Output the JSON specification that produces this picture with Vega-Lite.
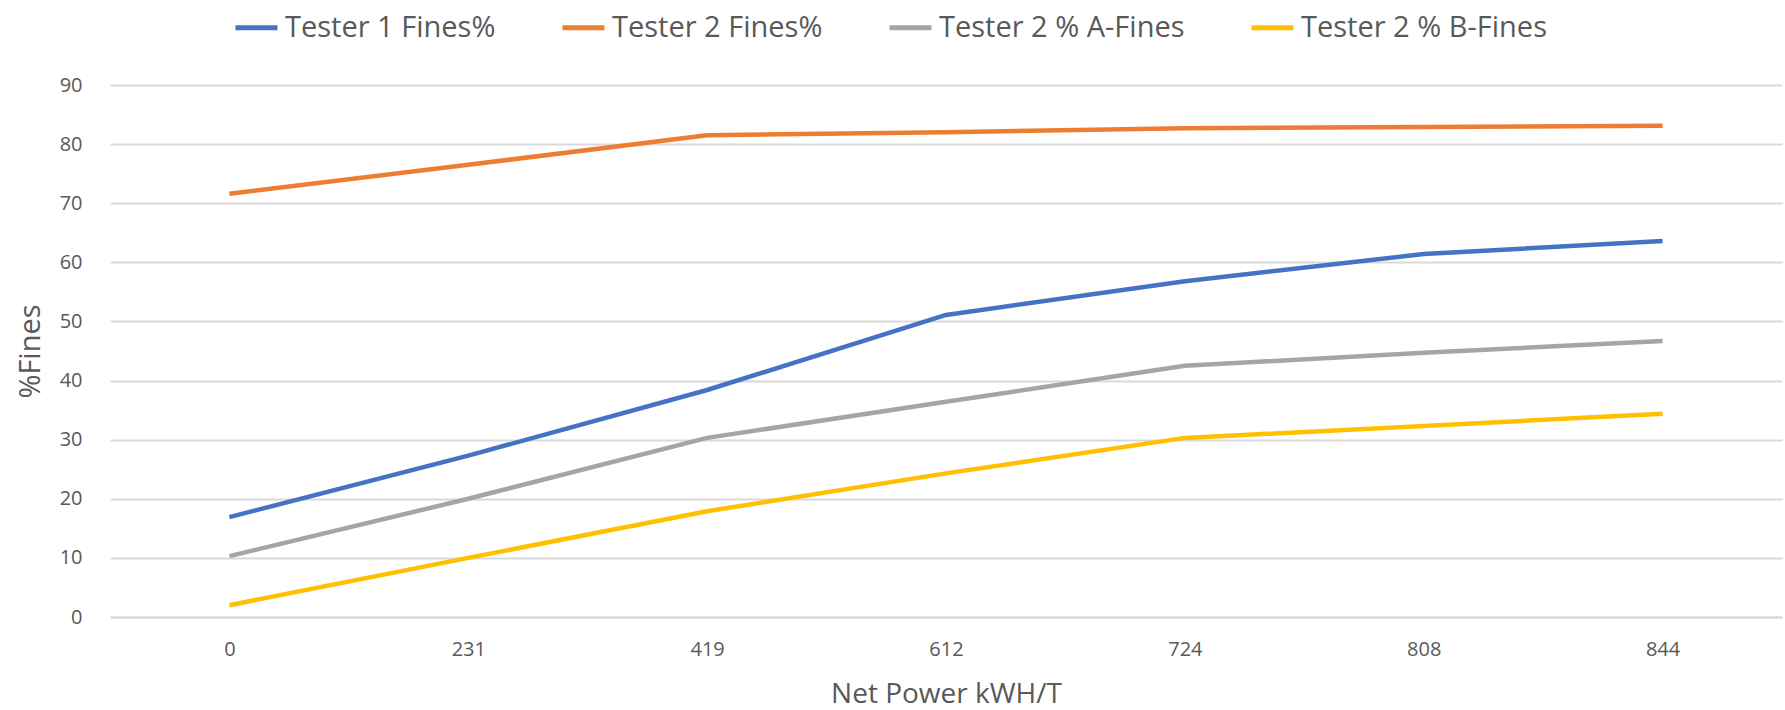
{
  "$schema": "https://vega.github.io/schema/vega-lite/v6.json",
  "autosize": "none",
  "width": 1672,
  "height": 532,
  "padding": {"left": 110, "top": 85, "right": 3, "bottom": 93},
  "background": "white",
  "config": {
    "font": "Open Sans",
    "view": {"stroke": null},
    "axis": {"labelColor": "#595959", "titleColor": "#595959", "labelFont": "Open Sans", "titleFont": "Open Sans", "titleFontWeight": "normal"},
    "legend": {"labelFont": "Open Sans", "labelColor": "#595959"}
  },
  "data": {
    "values": [
      {"power": "0", "series": "Tester 1 Fines%", "value": 16.9},
      {"power": "231", "series": "Tester 1 Fines%", "value": 27.3},
      {"power": "419", "series": "Tester 1 Fines%", "value": 38.4},
      {"power": "612", "series": "Tester 1 Fines%", "value": 51.1},
      {"power": "724", "series": "Tester 1 Fines%", "value": 56.8},
      {"power": "808", "series": "Tester 1 Fines%", "value": 61.4},
      {"power": "844", "series": "Tester 1 Fines%", "value": 63.6},
      {"power": "0", "series": "Tester 2 Fines%", "value": 71.6},
      {"power": "231", "series": "Tester 2 Fines%", "value": 76.5},
      {"power": "419", "series": "Tester 2 Fines%", "value": 81.5},
      {"power": "612", "series": "Tester 2 Fines%", "value": 82.0},
      {"power": "724", "series": "Tester 2 Fines%", "value": 82.7},
      {"power": "808", "series": "Tester 2 Fines%", "value": 82.9},
      {"power": "844", "series": "Tester 2 Fines%", "value": 83.1},
      {"power": "0", "series": "Tester 2 % A-Fines", "value": 10.3},
      {"power": "231", "series": "Tester 2 % A-Fines", "value": 20.0},
      {"power": "419", "series": "Tester 2 % A-Fines", "value": 30.3},
      {"power": "612", "series": "Tester 2 % A-Fines", "value": 36.4},
      {"power": "724", "series": "Tester 2 % A-Fines", "value": 42.5},
      {"power": "808", "series": "Tester 2 % A-Fines", "value": 44.7},
      {"power": "844", "series": "Tester 2 % A-Fines", "value": 46.7},
      {"power": "0", "series": "Tester 2 % B-Fines", "value": 2.0},
      {"power": "231", "series": "Tester 2 % B-Fines", "value": 10.0},
      {"power": "419", "series": "Tester 2 % B-Fines", "value": 17.9},
      {"power": "612", "series": "Tester 2 % B-Fines", "value": 24.3},
      {"power": "724", "series": "Tester 2 % B-Fines", "value": 30.3},
      {"power": "808", "series": "Tester 2 % B-Fines", "value": 32.3},
      {"power": "844", "series": "Tester 2 % B-Fines", "value": 34.4}
    ]
  },
  "mark": {"type": "line", "strokeWidth": 4.5, "strokeJoin": "round", "strokeCap": "butt"},
  "encoding": {
    "x": {
      "field": "power",
      "type": "ordinal",
      "sort": ["0", "231", "419", "612", "724", "808", "844"],
      "scale": {"type": "point", "padding": 0.5},
      "axis": {
        "title": "Net Power kWH/T",
        "titleFontSize": 28,
        "titlePadding": 21,
        "labelFontSize": 20,
        "labelPadding": 22,
        "labelAngle": 0,
        "ticks": false,
        "tickSize": 0,
        "domain": true,
        "domainColor": "#D9D9D9",
        "domainWidth": 2,
        "grid": false
      }
    },
    "y": {
      "field": "value",
      "type": "quantitative",
      "scale": {"domain": [0, 90], "nice": false},
      "axis": {
        "title": "%Fines",
        "titleFontSize": 29,
        "titlePadding": 14,
        "labelFontSize": 20,
        "labelPadding": 28,
        "values": [0, 10, 20, 30, 40, 50, 60, 70, 80, 90],
        "ticks": false,
        "tickSize": 0,
        "domain": false,
        "grid": true,
        "gridColor": "#D9D9D9",
        "gridWidth": 2
      }
    },
    "color": {
      "field": "series",
      "type": "nominal",
      "sort": ["Tester 1 Fines%", "Tester 2 Fines%", "Tester 2 % A-Fines", "Tester 2 % B-Fines"],
      "scale": {
        "domain": ["Tester 1 Fines%", "Tester 2 Fines%", "Tester 2 % A-Fines", "Tester 2 % B-Fines"],
        "range": ["#4472C4", "#ED7D31", "#A5A5A5", "#FFC000"]
      },
      "legend": {
        "title": null,
        "orient": "none",
        "direction": "horizontal",
        "legendX": 123,
        "legendY": -81,
        "padding": 0,
        "symbolType": "stroke",
        "symbolSize": 1764,
        "symbolStrokeWidth": 5,
        "labelFontSize": 29,
        "labelOffset": 5,
        "columnPadding": 56,
        "labelLimit": 400
      }
    }
  }
}
